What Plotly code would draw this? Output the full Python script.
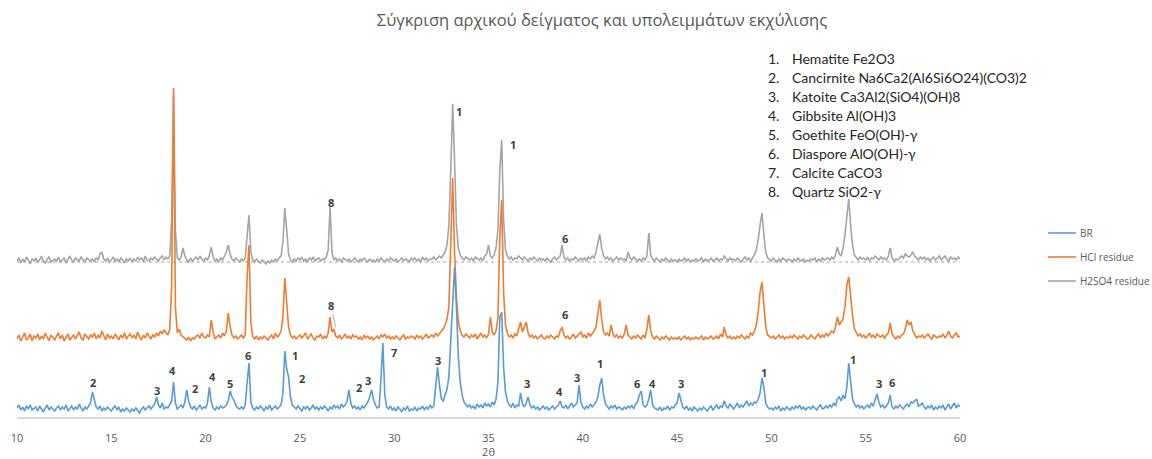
import numpy as np
import plotly.graph_objects as go

# ---------------- data ----------------
# scan grid: 2theta from 10.0 to 60.0 in 0.1 deg steps
two_theta = np.round(np.arange(10.0, 60.05, 0.1), 1)

br_counts = [
    9,12,7,10,6,11,8,12,7,9,        # 10
    10,6,11,8,5,9,12,7,10,8,        # 11
    6,9,11,7,10,8,12,6,9,11,        # 12
    7,10,8,13,9,6,10,8,11,14,       # 13
    25,18,10,8,11,6,9,7,10,8,       # 14
    6,9,11,7,10,5,8,6,9,7,          # 15
    5,8,6,9,7,4,8,10,7,9,           # 16
    11,8,10,13,20,12,9,14,8,10,     # 17
    9,12,16,35,14,8,10,12,9,15,     # 18
    27,16,10,8,11,7,9,12,8,10,      # 19
    9,14,30,15,9,7,10,8,11,9,       # 20
    10,12,16,26,20,17,12,9,8,10,    # 21
    8,12,34,54,15,9,7,10,8,11,      # 22
    9,6,10,8,12,7,9,11,8,10,        # 23
    12,24,66,48,40,20,12,10,8,11,   # 24
    9,6,10,8,11,7,9,12,8,10,        # 25
    7,10,8,11,9,6,10,8,12,9,        # 26
    11,8,13,10,12,16,27,14,9,11,    # 27
    8,10,7,11,9,12,15,20,27,18,     # 28
    12,9,10,38,74,22,10,8,11,7,     # 29
    9,6,10,8,5,9,7,11,6,8,          # 30
    7,10,6,9,8,11,7,10,8,12,        # 31
    9,11,30,50,32,18,16,22,28,40,   # 32
    75,120,150,110,60,35,22,15,12,10,  # 33
    12,9,11,8,13,10,12,9,14,11,     # 34
    13,10,15,12,18,35,100,105,50,25,   # 35
    16,12,10,14,9,12,11,24,13,10,   # 36
    14,20,12,9,11,8,10,7,9,11,      # 37
    8,10,7,9,11,8,10,12,16,10,      # 38
    9,12,8,11,14,10,12,14,32,15,    # 39
    10,8,11,9,13,10,12,15,20,32,    # 40
    39,22,13,10,8,11,9,12,8,10,     # 41
    9,7,10,8,11,9,12,8,13,15,       # 42
    22,26,12,10,12,18,27,12,9,8,    # 43
    7,10,6,9,8,11,7,10,9,12,        # 44
    14,24,16,10,8,11,7,9,6,10,      # 45
    8,6,9,7,10,8,6,9,11,7,          # 46
    9,12,8,11,10,16,11,9,13,10,     # 47
    8,11,14,9,12,10,13,16,11,14,    # 48
    12,15,14,18,24,39,30,14,10,8,   # 49
    9,7,10,8,11,6,9,7,10,8,         # 50
    7,10,8,11,9,12,8,10,7,9,        # 51
    10,8,11,9,7,10,12,8,9,11,       # 52
    9,12,10,14,11,18,20,16,22,18,   # 53
    30,54,38,18,13,10,12,9,11,8,    # 54
    10,12,9,14,11,16,23,15,10,12,   # 55
    9,11,14,22,10,8,11,9,12,10,     # 56
    8,11,13,10,15,14,16,18,11,12,   # 57
    14,10,8,11,9,12,7,10,8,11,      # 58
    9,12,7,10,13,8,11,14,9,12,      # 59
    10,                             # 60
]

hcl_counts = [
    8,12,6,10,14,7,9,13,6,11,       # 10
    9,13,7,11,8,14,10,6,12,9,       # 11
    7,11,14,8,12,6,10,13,7,9,       # 12
    12,8,11,15,9,7,13,10,8,12,      # 13
    10,14,8,12,9,16,11,7,13,9,      # 14
    11,8,13,10,7,12,9,14,8,11,      # 15
    13,9,12,8,15,10,7,12,9,14,      # 16
    11,8,12,10,14,11,16,13,17,15,   # 17
    12,18,60,259,40,14,18,12,10,8,  # 18
    7,10,6,9,8,11,12,9,14,10,       # 19
    9,12,10,27,15,8,10,12,9,14,     # 20
    11,16,34,20,12,9,11,8,10,12,    # 21
    9,12,70,102,25,10,8,11,7,10,    # 22
    8,11,9,7,10,12,8,14,10,12,      # 23
    16,30,69,45,20,12,9,11,8,10,    # 24
    12,9,11,14,8,10,13,9,7,11,      # 25
    10,13,8,11,9,14,30,15,18,11,    # 26
    9,12,8,10,13,9,11,8,12,10,      # 27
    11,8,10,7,12,9,11,8,10,7,       # 28
    9,11,8,12,10,13,9,11,8,10,      # 29
    8,11,9,7,10,12,8,10,9,11,       # 30
    10,8,12,9,11,8,10,13,9,11,      # 31
    12,10,14,11,13,15,18,22,28,40,  # 32
    110,169,95,50,25,16,12,10,13,11,   # 33
    9,12,10,13,8,11,14,10,12,9,     # 34
    13,30,15,12,16,30,110,147,55,22,   # 35
    14,10,12,9,13,11,18,25,15,20,   # 36
    25,14,10,12,9,11,8,10,12,9,     # 37
    8,11,9,12,10,8,11,10,16,20,     # 38
    12,9,11,8,10,13,9,11,12,15,     # 39
    10,12,9,14,11,13,16,20,35,47,   # 40
    28,15,12,14,11,22,13,10,12,9,   # 41
    11,9,13,22,12,10,8,11,9,12,     # 42
    10,8,12,9,18,32,16,10,8,11,     # 43
    9,7,10,8,11,9,7,10,8,9,         # 44
    8,10,7,9,11,8,10,7,9,8,         # 45
    10,8,9,11,7,10,8,9,11,8,        # 46
    9,11,8,13,10,20,12,9,11,8,      # 47
    10,8,11,9,12,10,8,11,9,14,      # 48
    12,16,22,35,55,65,40,20,12,10,  # 49
    9,11,8,10,12,9,11,8,10,9,       # 50
    11,9,12,10,8,11,9,12,10,8,      # 51
    9,12,10,8,11,13,9,12,10,14,     # 52
    11,13,16,14,20,30,22,25,28,40,  # 53
    62,70,50,32,18,14,11,13,10,12,  # 54
    9,11,14,10,12,9,13,11,10,12,    # 55
    9,12,14,24,13,10,8,11,9,12,     # 56
    13,18,27,22,25,16,12,9,11,10,   # 57
    12,9,11,13,10,8,12,10,9,11,     # 58
    10,13,9,12,16,11,9,12,14,10,    # 59
    11,                             # 60
]

h2so4_counts = [
    9,12,7,11,8,13,10,6,11,9,       # 10
    12,8,10,14,9,7,11,13,8,10,      # 11
    11,9,13,8,10,12,7,11,14,10,     # 12
    8,12,10,9,13,11,8,12,10,9,      # 13
    11,8,12,10,16,18,11,9,12,8,     # 14
    10,13,9,11,8,12,10,7,11,9,      # 15
    12,8,11,9,13,10,12,8,14,10,     # 16
    9,12,10,13,11,9,12,14,10,13,    # 17
    11,14,50,175,40,12,10,13,22,14, # 18
    10,8,12,9,11,13,10,14,11,9,     # 19
    12,10,15,23,13,9,11,8,12,10,    # 20
    14,18,25,16,11,9,12,10,8,11,    # 21
    9,12,30,55,18,10,8,11,9,7,      # 22
    10,8,6,9,7,10,8,11,9,12,        # 23
    14,28,62,40,16,10,8,11,9,12,    # 24
    10,13,9,11,8,12,10,13,9,11,     # 25
    12,9,11,10,13,20,63,18,10,12,   # 26
    9,11,8,12,10,9,11,8,10,12,      # 27
    10,8,11,9,12,10,8,11,9,10,      # 28
    8,11,9,12,10,8,11,9,12,10,      # 29
    9,11,8,10,12,9,11,10,8,12,      # 30
    10,12,9,11,8,13,10,12,9,11,     # 31
    11,13,10,12,14,12,15,18,25,45,  # 32
    100,166,110,45,22,15,12,10,13,11,  # 33
    10,12,9,13,11,10,12,9,14,16,    # 34
    25,14,12,15,22,40,100,130,50,20,   # 35
    14,11,13,10,12,11,14,12,10,13,  # 36
    11,9,12,10,13,11,9,12,10,11,    # 37
    9,12,10,8,11,13,10,12,14,25,    # 38
    13,10,12,9,11,10,13,11,9,12,    # 39
    10,12,9,13,11,14,12,18,28,36,   # 40
    22,14,11,13,10,12,9,11,13,10,   # 41
    12,10,11,9,18,12,10,13,11,9,    # 42
    11,9,12,10,14,37,15,11,9,12,    # 43
    10,8,11,9,12,10,8,11,9,10,      # 44
    8,11,9,10,12,9,11,8,10,9,       # 45
    11,9,10,12,8,11,9,10,12,9,      # 46
    10,12,9,11,10,14,11,9,12,10,    # 47
    11,9,12,10,8,11,13,10,12,9,     # 48
    12,15,20,30,45,57,35,18,12,10,  # 49
    9,12,10,8,11,9,12,10,9,11,      # 50
    10,8,11,9,12,10,9,11,8,10,      # 51
    9,11,10,12,8,11,9,12,10,11,     # 52
    12,10,13,11,15,23,16,14,22,35,  # 53
    55,71,45,25,15,12,10,13,11,12,  # 54
    10,13,9,12,11,14,12,10,13,11,   # 55
    12,10,14,22,12,9,11,10,12,14,   # 56
    12,16,14,13,15,18,14,12,10,13,  # 57
    11,13,10,12,9,11,13,10,12,14,   # 58
    10,12,14,11,9,13,11,12,10,13,   # 59
    11,                             # 60
]

# dotted trend line under the H2SO4 pattern
h2so4_trend_x = [10, 60]
h2so4_trend_y = [8, 8]

series_names = ["BR", "HCl residue", "H2SO4 residue"]

phase_list = [
    "Hematite Fe2O3",
    "Cancirnite Na6Ca2(Al6Si6O24)(CO3)2",
    "Katoite Ca3Al2(SiO4)(OH)8",
    "Gibbsite Al(OH)3",
    "Goethite FeO(OH)-γ",
    "Diaspore AlO(OH)-γ",
    "Calcite CaCO3",
    "Quartz SiO2-γ",
]

# peak labels: (2theta, height, phase number)
br_labels = [
    (14.03, 35, "2"), (17.42, 27, "3"), (18.22, 47, "4"), (19.44, 29, "2"),
    (20.39, 41, "4"), (21.29, 34, "5"), (22.25, 62, "6"), (24.74, 62, "1"),
    (25.10, 39, "2"), (28.15, 30, "2"), (28.63, 37, "3"), (30.00, 65, "7"),
    (32.31, 57, "3"), (37.06, 34, "3"), (38.76, 26, "4"), (39.68, 40, "3"),
    (40.91, 54, "1"), (42.86, 34, "6"), (43.71, 34, "4"), (45.19, 34, "3"),
    (49.61, 45, "1"), (54.31, 58, "1"), (55.72, 34, "3"), (56.38, 35, "6"),
]
hcl_labels = [(39.06, 103, "6")]
h2so4_labels = [(26.63, 215, "8"), (33.45, 306, "1"), (36.28, 273, "1"), (39.06, 179, "6")]

# ---------------- styling ----------------
HCL_OFFSET = 70
H2SO4_OFFSET = 147
COL_BR = "#5B9BD5"
COL_HCL = "#ED7D31"
COL_H2SO4 = "#A5A5A5"
TEXT = "#595959"

L, R, T, B = 17, 192, 77, 42
W, H = 1152, 459
pw, ph = W - L - R, H - T - B


def px_x(p):
    return (p - L) / pw


def px_y(p):
    return (H - B - p) / ph


fig = go.Figure()

fig.add_trace(go.Scatter(x=h2so4_trend_x, y=np.array(h2so4_trend_y) + H2SO4_OFFSET,
                         mode="lines", line=dict(color=COL_H2SO4, width=1, dash="dot"),
                         showlegend=False, hoverinfo="skip"))
fig.add_trace(go.Scatter(x=two_theta, y=np.array(h2so4_counts) + H2SO4_OFFSET,
                         mode="lines", name=series_names[2],
                         line=dict(color=COL_H2SO4, width=1.6)))
fig.add_trace(go.Scatter(x=two_theta, y=np.array(hcl_counts) + HCL_OFFSET,
                         mode="lines", name=series_names[1],
                         line=dict(color=COL_HCL, width=1.6)))
fig.add_trace(go.Scatter(x=two_theta, y=np.array(br_counts),
                         mode="lines", name=series_names[0],
                         line=dict(color=COL_BR, width=1.6)))

annotations = []
shapes = []
lab_font = dict(family="Open Sans", size=11, color="#404040")
for lx, ly, t in br_labels + hcl_labels + h2so4_labels:
    annotations.append(dict(x=lx, y=ly, xref="x", yref="y", text="<b>" + t + "</b>",
                            showarrow=False, font=lab_font))
# HCl quartz label with leader line
annotations.append(dict(x=26.9, y=90, xref="x", yref="y", text="<b>8</b>", showarrow=True,
                        arrowhead=0, arrowwidth=0.8, arrowcolor="#A0A0A0", ax=-5, ay=-22,
                        font=lab_font))

# phase list (top right)
for i, p in enumerate(phase_list):
    yy = 59 + i * 18.9
    annotations.append(dict(x=px_x(766), y=px_y(yy), xref="paper", yref="paper", text=f"{i+1}.",
                            showarrow=False, xanchor="left", yanchor="middle",
                            font=dict(family="Lato", size=14, color="#262626")))
    annotations.append(dict(x=px_x(790), y=px_y(yy), xref="paper", yref="paper", text=p,
                            showarrow=False, xanchor="left", yanchor="middle",
                            font=dict(family="Lato", size=14, color="#262626")))

# series key (right side), drawn as short lines + text
key_colors = [COL_BR, COL_HCL, COL_H2SO4]
for i, (nm, c) in enumerate(zip(series_names, key_colors)):
    yy = 233 + i * 24
    shapes.append(dict(type="line", xref="paper", yref="paper",
                       x0=px_x(1048), x1=px_x(1076), y0=px_y(yy), y1=px_y(yy),
                       line=dict(color=c, width=1.6)))
    annotations.append(dict(x=px_x(1078), y=px_y(yy), xref="paper", yref="paper", text=nm,
                            showarrow=False, xanchor="left", yanchor="middle",
                            font=dict(family="Open Sans", size=10, color=TEXT)))

fig.update_layout(
    width=W, height=H,
    margin=dict(l=L, r=R, t=T, b=B, autoexpand=False),
    paper_bgcolor="white", plot_bgcolor="white",
    title=dict(text="Σύγκριση αρχικού δείγματος και υπολειμμάτων εκχύλισης",
               x=602 / W, xanchor="center",
               y=1 - 20 / H, yanchor="middle",
               font=dict(family="Open Sans", size=16.5, color=TEXT)),
    xaxis=dict(range=[10, 60], tickvals=list(range(10, 61, 5)), showgrid=False, zeroline=False,
               automargin=False,
               showline=True, linecolor="#D9D9D9", linewidth=1.5,
               ticks="outside", ticklen=10, tickcolor="rgba(0,0,0,0)",
               tickfont=dict(family="Open Sans", size=11, color=TEXT),
               title=dict(text="2θ", standoff=6, font=dict(family="Open Sans", size=11, color=TEXT))),
    yaxis=dict(range=[0, 340], visible=False, automargin=False),
    annotations=annotations,
    shapes=shapes,
    showlegend=False,
)

fig.write_html("out.html")
